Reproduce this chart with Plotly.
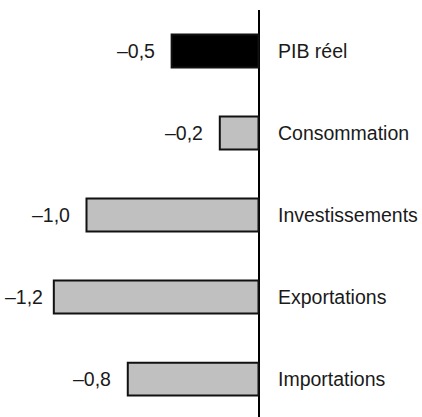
import plotly.graph_objects as go

categories = ["PIB réel", "Consommation", "Investissements", "Exportations", "Importations"]
values = [-0.505, -0.225, -1.0, -1.19, -0.76]
colors = ["#000000", "#c0c0c0", "#c0c0c0", "#c0c0c0", "#c0c0c0"]

def fmt(v):
    s = f"{abs(v):.1f}".replace(".", ",")
    return "\u2013" + s if v < 0 else s

FONT = "Liberation Sans, Arial, sans-serif"
FS = 19.5

fig = go.Figure()
fig.add_trace(go.Bar(
    y=categories, x=values, orientation="h",
    marker=dict(color=colors, line=dict(color="#111111", width=2)),
    width=0.40, showlegend=False, hoverinfo="skip",
))

shifts = [-15, -15, -15, -9, -15]
for cat, v, sh in zip(categories, values, shifts):
    fig.add_annotation(x=v, y=cat, text=fmt(v), showarrow=False,
                       xanchor="right", yanchor="middle", xshift=sh,
                       font=dict(family=FONT, size=FS, color="#1a1a1a"))
    fig.add_annotation(x=0, y=cat, text=cat, showarrow=False,
                       xanchor="left", yanchor="middle", xshift=17,
                       font=dict(family=FONT, size=FS, color="#1a1a1a"))

fig.update_layout(
    width=422, height=417,
    margin=dict(l=0, r=0, t=10, b=0),
    paper_bgcolor="white", plot_bgcolor="white",
    xaxis=dict(range=[-258.5 / 172, (422 - 258.5) / 172], showgrid=False,
               zeroline=True, zerolinecolor="#000000", zerolinewidth=1.5,
               showticklabels=False, ticks="", showline=False, fixedrange=True),
    yaxis=dict(type="category", range=[4.463, -0.5], showgrid=False,
               zeroline=False, showticklabels=False, ticks="", showline=False,
               fixedrange=True),
)

fig.write_html("out.html", config={"displayModeBar": False},
               post_script="document.body.style.margin='0';document.body.style.overflow='hidden';")
